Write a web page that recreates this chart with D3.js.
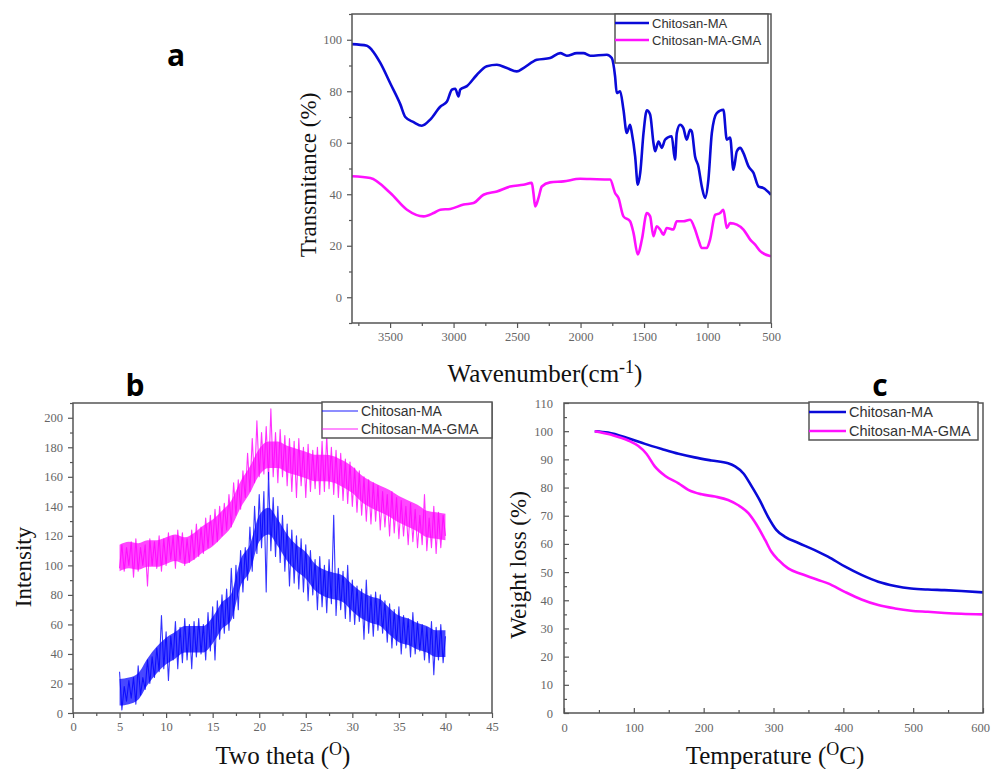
<!DOCTYPE html>
<html>
<head>
<meta charset="utf-8">
<script src="https://cdn.jsdelivr.net/npm/d3@7"></script>
<style>
  body { margin: 0; background: #fff; }
  svg { display: block; }
</style>
</head>
<body>
<script>
const width = 991;
const height = 769;

const seriesNames = ["Chitosan-MA", "Chitosan-MA-GMA"];

// (a) FTIR
const ftirWaveMA = [3800,3682,3643,3577,3498,3420,3380,3315,3250,3184,3105,3052,3013,2987,2961,2948,2895,2816,2738,2659,2580,2502,2450,2344,2240,2160,2108,2029,1977,1924,1793,1754,1728,1715,1688,1662,1636,1610,1596,1570,1549,1530,1504,1478,1452,1426,1413,1386,1360,1334,1282,1256,1242,1216,1190,1164,1137,1124,1098,1072,1045,1019,993,966,927,875,848,822,796,769,743,717,677,638,598,559,500];
const ftirMA = [98.3,97.7,96,91,83,75,70,68,66.6,69,74,76,80.6,81,78,80.6,82,86.4,89.7,90.3,89,87.7,89,92.2,92.9,94.8,93.8,94.8,94.8,93.8,94.2,92.9,85.8,79.3,80,72.8,63.8,67,63.8,54.7,43.7,48.3,63.8,72.6,71,60,56.7,60.5,58,61.2,62.5,53.4,63.8,67,65.7,61.2,65,64.4,54.7,50.8,43,38.6,45.7,63.8,71.5,72.8,61.2,62,49.5,56.7,58,56,50.8,48.3,43,42.4,39.8];
const ftirWaveGMA = [3800,3656,3498,3367,3236,3157,3105,3026,2921,2843,2764,2659,2554,2450,2384,2371,2357,2331,2305,2240,2134,2003,1924,1767,1728,1702,1662,1610,1583,1549,1517,1478,1452,1426,1400,1373,1347,1321,1269,1242,1190,1137,1098,1072,1045,1006,980,940,901,875,848,822,769,717,664,625,585,500];
const ftirGMA = [47,46.3,40.5,34,31.4,32.7,34,34.3,36,36.6,39.8,41.1,43,43.7,44.4,40.5,35.3,38.6,43,44.6,45,46,45.9,45.7,40.5,38.6,31.4,29.5,25,16.6,22.4,32.7,31.4,23.7,27.6,26.3,24.3,26.9,26.3,29.5,29.5,30.1,26.3,22.4,19.1,19.1,22.4,32,32.7,34,26.9,28.8,28.2,26.3,22.4,20.4,17.9,15.9];

// (b) XRD: spiky trace, one reading every 0.25 degree from 5 to 40
const xrdStart = 5;
const xrdStep = 0.25;
const xrdMA = [28,2,18,8,22,10,24,6,32,12,24,16,36,20,38,24,44,28,66,30,55,22,52,36,62,30,58,34,64,36,60,30,62,38,64,40,60,36,68,42,72,36,76,50,80,54,84,56,98,64,100,70,110,82,112,90,126,96,140,108,148,112,150,82,163,110,146,106,140,102,134,96,128,86,124,88,120,84,118,82,114,76,110,80,104,70,106,72,100,68,104,74,134,66,98,70,96,64,100,62,90,60,86,62,84,50,90,54,80,52,82,56,80,54,76,48,74,44,70,46,72,40,66,44,64,38,68,40,62,42,60,36,58,34,62,26,58,36,60,34,52];
const xrdGMA = [98,114,96,112,100,116,92,118,96,112,100,114,86,118,100,116,98,120,96,118,100,122,104,120,98,124,104,122,100,118,102,124,104,128,106,126,108,132,112,134,114,138,116,140,120,142,124,148,126,156,134,158,138,164,146,176,150,186,156,198,160,190,162,194,158,206,160,190,156,192,160,188,154,186,150,184,146,186,154,180,146,182,150,178,152,180,148,184,150,188,152,180,148,178,146,176,144,172,142,170,140,166,136,164,134,160,130,158,128,156,130,154,124,150,126,148,120,150,122,146,118,144,120,140,114,142,116,138,112,134,114,148,110,132,112,140,108,136,112,134,120];
// dense core of each noisy band, one reading per degree from 5 to 40
const xrdCoreAngles = [5,6,7,8,9,10,11,12,13,14,15,16,17,18,19,20,21,22,23,24,25,26,27,28,29,30,31,32,33,34,35,36,37,38,39,40];
const xrdCoreHighMA = [23,24,27,37,45,51,55,59,59,59,65,75,81,104,114,134,139,131,121,114,109,101,97,95,93,87,82,79,77,71,66,64,61,59,56,56];
const xrdCoreLowMA = [5,6,9,19,27,33,37,41,41,41,47,57,63,86,96,116,121,113,103,96,91,83,79,77,75,69,64,61,59,53,48,46,43,41,38,38];
const xrdCoreHighGMA = [114,116,115,117,117,119,121,119,122,127,131,137,144,157,167,179,184,184,181,179,177,175,175,174,171,167,161,157,154,151,147,144,141,137,136,135];
const xrdCoreLowGMA = [96,98,97,99,99,101,103,101,104,109,113,119,126,139,149,161,166,166,163,161,159,157,157,156,153,149,143,139,136,133,129,126,123,119,118,117];

// (c) TGA
const tgaTempMA = [44,63,92,116,140,164,187,211,235,245,257,269,280,292,304,316,335,359,378,402,426,450,474,497,521,545,569,600];
const tgaMA = [100,99.5,97.5,95.5,93.7,92,90.7,89.6,88.6,87.5,85,80.3,75.6,69.7,65,62.6,60.4,57.8,55.5,52,49,46.6,45.1,44.2,43.8,43.6,43.3,42.8];
const tgaTempGMA = [44,68,92,106,118,130,145,164,178,197,216,235,249,264,276,288,297,307,321,340,364,378,402,426,450,474,497,521,545,569,600];
const tgaGMA = [100,98.7,96.7,94.8,92,87.5,84.1,81.5,79.2,77.6,76.8,75.6,73.8,70.9,66.7,61.4,57.2,54.3,51.3,49.3,47.2,46,43,40.3,38.3,37.1,36.3,35.9,35.5,35.2,35];

const blue = "#0a0ad8";
const magenta = "#ff10ff";
const serif = "'Liberation Serif', 'Times New Roman', serif";
const sans = "'Liberation Sans', Arial, sans-serif";

const svg = d3.select("body").append("svg")
  .attr("width", width)
  .attr("height", height);

function zip(xs, ys) {
  return xs.map((v, i) => [v, ys[i]]);
}

function drawPanel(o) {
  const g = svg.append("g");
  const x = d3.scaleLinear().domain(o.xDomain).range([o.left, o.right]);
  const y = d3.scaleLinear().domain(o.yDomain).range([o.bottom, o.top]);

  // minor ticks first, then labelled ones
  g.append("g")
    .attr("transform", `translate(0,${o.bottom})`)
    .call(d3.axisBottom(x).tickValues(o.xMinor).tickSize(o.tick * 0.6).tickFormat(""));
  g.append("g")
    .attr("transform", `translate(${o.left},0)`)
    .call(d3.axisLeft(y).tickValues(o.yMinor).tickSize(o.tick * 0.6).tickFormat(""));
  const xAxis = g.append("g")
    .attr("transform", `translate(0,${o.bottom})`)
    .call(d3.axisBottom(x).tickValues(o.xMajor).tickSize(o.tick)
      .tickPadding(o.tick > 0 ? 4 : 10).tickFormat(d3.format("d")));
  g.append("g")
    .attr("transform", `translate(${o.left},0)`)
    .call(d3.axisLeft(y).tickValues(o.yMajor).tickSize(o.tick)
      .tickPadding(o.tick > 0 ? 5 : 11).tickFormat(d3.format("d")));

  g.selectAll(".domain").remove();
  g.selectAll(".tick line").attr("stroke", "#555").attr("stroke-width", 1.2);
  g.selectAll(".tick text")
    .attr("font-family", serif)
    .attr("font-size", 12.5)
    .attr("fill", "#666");
  if (o.lastLabelShift) {
    xAxis.selectAll(".tick text").filter(d => d === o.xMajor[o.xMajor.length - 1])
      .attr("dx", o.lastLabelShift);
  }

  const line = d3.line()
    .x(d => x(d[0]))
    .y(d => y(d[1]))
    .curve(o.curve || d3.curveLinear);

  const clipId = "clip-" + o.name;
  g.append("clipPath").attr("id", clipId)
    .append("rect")
    .attr("x", o.left).attr("y", o.top)
    .attr("width", o.right - o.left).attr("height", o.bottom - o.top);

  o.series.forEach(s => {
    if (s.core) {
      g.append("path")
        .datum(s.core)
        .attr("clip-path", `url(#${clipId})`)
        .attr("fill", s.color)
        .attr("fill-opacity", 0.72)
        .attr("d", d3.area()
          .x(d => x(d[0]))
          .y0(d => y(d[1]))
          .y1(d => y(d[2]))
          .curve(d3.curveMonotoneX));
    }
    g.append("path")
      .datum(s.values)
      .attr("clip-path", `url(#${clipId})`)
      .attr("fill", "none")
      .attr("stroke", s.color)
      .attr("stroke-width", s.width)
      .attr("stroke-opacity", s.opacity || 1)
      .attr("stroke-linejoin", "round")
      .attr("d", line);
  });

  g.append("rect")
    .attr("x", o.left).attr("y", o.top)
    .attr("width", o.right - o.left).attr("height", o.bottom - o.top)
    .attr("fill", "none")
    .attr("stroke", "#555")
    .attr("stroke-width", 1.5);

  // legend
  const L = o.legend;
  const lg = g.append("g");
  lg.append("rect")
    .attr("x", L.x).attr("y", L.y).attr("width", L.w).attr("height", L.h)
    .attr("fill", "#fff").attr("stroke", "#555").attr("stroke-width", 1.5);
  o.legendSeries.forEach((s, i) => {
    const ly = L.y + L.first + i * L.gap;
    lg.append("line")
      .attr("x1", L.x).attr("x2", L.x + L.lineLen)
      .attr("y1", ly).attr("y2", ly)
      .attr("stroke", s.color)
      .attr("stroke-width", s.legendWidth || s.width)
      .attr("stroke-opacity", s.legendOpacity || 1);
    lg.append("text")
      .attr("x", L.x + L.lineLen + 3).attr("y", ly + L.font * 0.36)
      .attr("font-family", sans)
      .attr("font-size", L.font)
      .attr("fill", "#333")
      .text(seriesNames[i]);
  });

  // panel letter
  svg.append("text")
    .attr("x", o.letter[0]).attr("y", o.letter[1])
    .attr("text-anchor", "middle")
    .attr("font-family", "'Open Sans', 'DejaVu Sans', sans-serif")
    .attr("font-weight", "bold")
    .attr("font-size", 30)
    .text(o.name);

  // y title
  svg.append("text")
    .attr("transform", `translate(${o.yTitle[0]},${o.yTitle[1]}) rotate(-90)`)
    .attr("text-anchor", "middle")
    .attr("font-family", serif)
    .attr("font-size", o.yTitle[2])
    .attr("fill", "#111")
    .text(o.yLabel);

  // x title with superscript part
  const xt = svg.append("text")
    .attr("x", o.xTitle[0]).attr("y", o.xTitle[1])
    .attr("text-anchor", "middle")
    .attr("font-family", serif)
    .attr("font-size", o.xTitle[2])
    .attr("fill", "#111");
  xt.append("tspan").text(o.xLabel[0]);
  xt.append("tspan").attr("dy", -9).attr("font-size", o.xTitle[2] * 0.72).text(o.xLabel[1]);
  xt.append("tspan").attr("dy", 9).text(o.xLabel[2]);
}

const rangeStep = (a, b, s) => d3.range(a, b + s / 2, s);

const ftirSeries = [
  { values: zip(ftirWaveMA, ftirMA), color: blue, width: 2.6 },
  { values: zip(ftirWaveGMA, ftirGMA), color: magenta, width: 2.6 }
];
drawPanel({
  name: "a",
  left: 352, right: 771, top: 14, bottom: 323,
  xDomain: [3800, 500], yDomain: [-10, 110],
  xMajor: rangeStep(500, 3500, 500), xMinor: rangeStep(750, 3750, 500),
  yMajor: rangeStep(0, 100, 20), yMinor: rangeStep(-10, 110, 20),
  tick: 5,
  curve: d3.curveMonotoneX,
  series: ftirSeries,
  legendSeries: ftirSeries,
  legend: { x: 615, y: 14, w: 153, h: 49, first: 9, gap: 17, lineLen: 34, font: 13 },
  letter: [176, 66],
  yLabel: "Transmitance (%)", yTitle: [316, 175, 23],
  xLabel: ["Wavenumber(cm", "-1", ")"], xTitle: [545, 382, 25]
});

const xrdSeriesMA = {
  values: xrdMA.map((v, i) => [xrdStart + i * xrdStep, v]),
  core: xrdCoreAngles.map((a, i) => [a, xrdCoreLowMA[i], xrdCoreHighMA[i]]),
  color: "#0000ff", width: 1.1, opacity: 0.8, legendWidth: 1.6, legendOpacity: 0.6
};
const xrdSeriesGMA = {
  values: xrdGMA.map((v, i) => [xrdStart + i * xrdStep, v]),
  core: xrdCoreAngles.map((a, i) => [a, xrdCoreLowGMA[i], xrdCoreHighGMA[i]]),
  color: "#ff00ff", width: 1.1, opacity: 0.8, legendWidth: 1.6, legendOpacity: 0.6
};
drawPanel({
  name: "b",
  left: 73, right: 492, top: 403, bottom: 713,
  xDomain: [0, 45], yDomain: [0, 210],
  xMajor: rangeStep(0, 45, 5), xMinor: rangeStep(2.5, 42.5, 5),
  yMajor: rangeStep(0, 200, 20), yMinor: rangeStep(10, 210, 20),
  tick: 5,
  series: [xrdSeriesGMA, xrdSeriesMA],
  legendSeries: [xrdSeriesMA, xrdSeriesGMA],
  legend: { x: 322, y: 402, w: 170, h: 36, first: 9, gap: 18, lineLen: 36, font: 14 },
  letter: [135, 396],
  yLabel: "Intensity", yTitle: [31, 567, 23],
  xLabel: ["Two theta (", "O", ")"], xTitle: [283, 764, 25]
});

const tgaSeries = [
  { values: zip(tgaTempMA, tgaMA), color: blue, width: 2.6 },
  { values: zip(tgaTempGMA, tgaGMA), color: magenta, width: 2.6 }
];
drawPanel({
  name: "c",
  left: 564, right: 983, top: 403, bottom: 713,
  xDomain: [0, 600], yDomain: [0, 110],
  xMajor: rangeStep(0, 600, 100), xMinor: rangeStep(50, 550, 100),
  yMajor: rangeStep(0, 110, 10), yMinor: rangeStep(5, 105, 10),
  tick: -5,
  lastLabelShift: -3,
  curve: d3.curveMonotoneX,
  series: tgaSeries,
  legendSeries: tgaSeries,
  legend: { x: 809, y: 402, w: 169, h: 38, first: 10, gap: 19, lineLen: 37, font: 14.5 },
  letter: [880, 396],
  yLabel: "Weight loss (%)", yTitle: [526, 565, 23],
  xLabel: ["Temperature (", "O", "C)"], xTitle: [775, 764, 25]
});
</script>
</body>
</html>
